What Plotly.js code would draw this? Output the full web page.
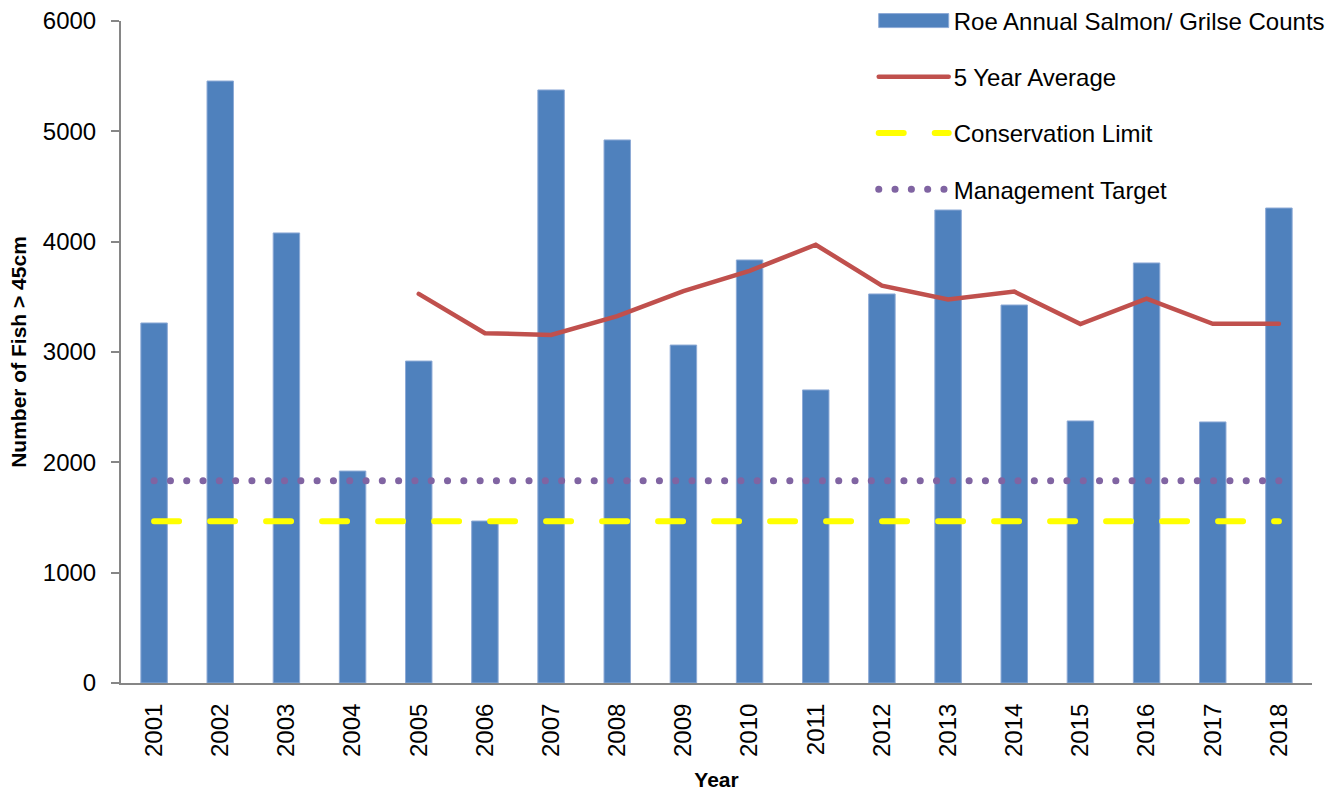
<!DOCTYPE html>
<html>
<head>
<meta charset="utf-8">
<script src="https://cdn.plot.ly/plotly-3.0.1.min.js"></script>
<style>
html,body{margin:0;padding:0;background:#fff;}
#chart{width:1344px;height:791px;}
#chart path.js-line{stroke-linecap:round;}
#chart .legendlines path{stroke-linecap:round;}
</style>
</head>
<body>
<div id="chart"></div>
<script>
const years = ["2001","2002","2003","2004","2005","2006","2007","2008","2009","2010","2011","2012","2013","2014","2015","2016","2017","2018"];
const counts = [3263, 5456, 4079, 1921, 2918, 1468, 5375, 4922, 3063, 3834, 2656, 3526, 4287, 3426, 2375, 3807, 2366, 4305];
const avgYears = ["2005","2006","2007","2008","2009","2010","2011","2012","2013","2014","2015","2016","2017","2018"];
const fiveYearAvg = [3527, 3170, 3155, 3325, 3552, 3735, 3972, 3602, 3476, 3548, 3254, 3484, 3255, 3257];
const conservationLimit = [1467, 1467, 1467, 1467, 1467, 1467, 1467, 1467, 1467, 1467, 1467, 1467, 1467, 1467, 1467, 1467, 1467, 1467];
const managementTarget = [1833, 1833, 1833, 1833, 1833, 1833, 1833, 1833, 1833, 1833, 1833, 1833, 1833, 1833, 1833, 1833, 1833, 1833];
const yTicks = [0, 1000, 2000, 3000, 4000, 5000, 6000];

const font = "Liberation Sans, Arial, sans-serif";

const traces = [
  {type:"bar", x:years, y:counts, name:"Roe Annual Salmon/ Grilse Counts",
   marker:{color:"#4F81BD", line:{color:"#8DAAD6", width:1}}, legendgroup:"a"},
  {type:"scatter", mode:"lines", x:avgYears, y:fiveYearAvg, name:"5 Year Average",
   line:{color:"#C0504D", width:4.5}, legendgroup:"b"},
  {type:"scatter", mode:"lines", x:years, y:conservationLimit, name:"Conservation Limit",
   line:{color:"#FFFF00", width:6, dash:"25px,31px"}, legendgroup:"c"},
  {type:"scatter", mode:"lines", x:years, y:managementTarget, name:"Management Target",
   line:{color:"#8064A2", width:7, dash:"0.1px,16.2px"}, legendgroup:"d"}
];

const layout = {
  width:1344, height:791,
  margin:{l:121, r:32, t:21, b:108, autoexpand:false},
  paper_bgcolor:"#fff", plot_bgcolor:"#fff",
  font:{family:font, color:"#000", size:24},
  bargap:0.6,
  showlegend:true,
  legend:{x:0.632, xanchor:"left", y:1.034, yanchor:"top", font:{family:font, size:24, color:"#000"},
          tracegroupgap:22, itemwidth:70, bgcolor:"rgba(0,0,0,0)"},
  xaxis:{type:"category", tickangle:-90, showline:true, linecolor:"#868686", linewidth:2,
         ticks:"", showgrid:false, tickfont:{size:24}, ticklabelstandoff:9,
         title:{text:"Year", font:{size:21, family:font, weight:"bold"}, standoff:17}},
  yaxis:{range:[0,6000], tickvals:yTicks, showline:true, linecolor:"#868686", linewidth:2,
         ticks:"outside", ticklen:8, tickcolor:"#868686", tickwidth:2, showgrid:false, zeroline:false,
         tickfont:{size:24}, ticklabelstandoff:10,
         title:{text:"Number of Fish > 45cm", font:{size:21, family:font, weight:"bold"}, standoff:10}}
};

Plotly.newPlot("chart", traces, layout, {displayModeBar:false}).then(function(gd){
  const first = gd.querySelectorAll('.legend .traces')[0];
  if(first){
    const p = first.querySelector('.legendpoints path');
    if(p){ p.setAttribute('d','M35,7H-35V-7H35Z'); }
  }
});
</script>
</body>
</html>
